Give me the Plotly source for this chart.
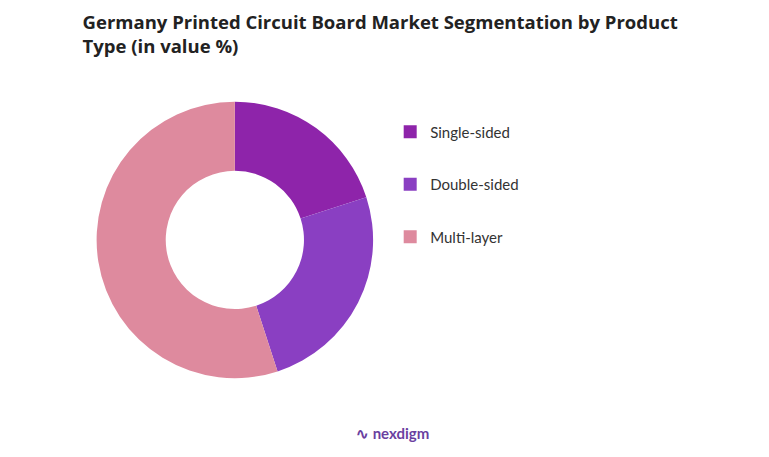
import plotly.graph_objects as go

labels = ["Single-sided", "Double-sided", "Multi-layer"]
values = [20, 25, 55]
colors = ["#8E24AA", "#8A3FC2", "#DE8A9E"]

fig = go.Figure(go.Pie(
    labels=labels, values=values, hole=0.5, sort=False, direction="clockwise",
    rotation=0, marker=dict(colors=colors), textinfo="none", hoverinfo="label+percent",
    domain=dict(x=[0.115, 0.475], y=[0.19, 0.795]), showlegend=False,
))

# legend entries as separate traces so they can be spaced out
for lab, col in zip(labels, colors):
    fig.add_trace(go.Scatter(x=[None], y=[None], mode="markers", name=lab, legendgroup=lab,
                             marker=dict(symbol="square", size=13, color=col)))

fig.update_layout(
    width=769, height=457, paper_bgcolor="white", plot_bgcolor="white",
    margin=dict(l=0, r=0, t=0, b=0),
    xaxis=dict(visible=False), yaxis=dict(visible=False),
    font=dict(family="Lato, Noto Sans, sans-serif", color="#333"),
    title=dict(text="<b>Germany Printed Circuit Board Market Segmentation by Product<br>Type (in value %)</b>",
               x=0.097, xanchor="left", y=0.955, yanchor="top",
               font=dict(size=18.5, family="Open Sans, sans-serif", color="#222")),
    legend=dict(x=0.497, y=0.765, xanchor="left", yanchor="top",
                font=dict(size=15, color="#333"), tracegroupgap=30),
    annotations=[dict(text="<b>∿ nexdigm</b>", x=0.5, y=0.045, xref="paper", yref="paper",
                      showarrow=False, font=dict(size=15, color="#6A3FA0"))],
)
fig.write_html("out.html")
